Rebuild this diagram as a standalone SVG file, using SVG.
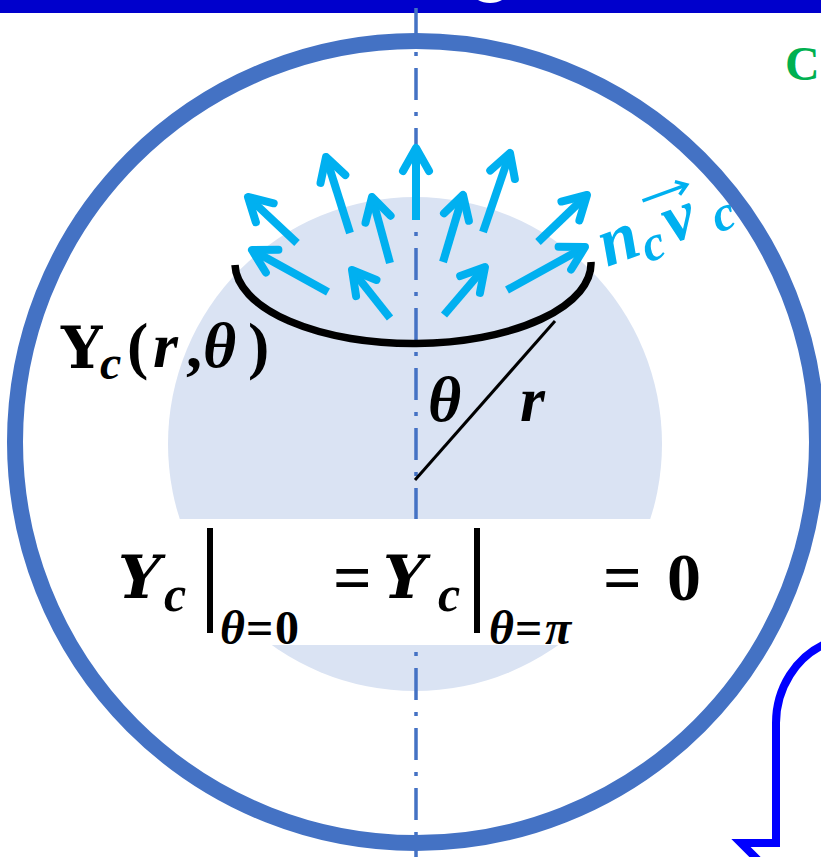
<svg xmlns="http://www.w3.org/2000/svg" width="821" height="857" viewBox="0 0 821 857">
<defs>
<style>
.m{font-family:"Liberation Serif","DejaVu Serif",serif;font-weight:bold;font-style:italic;fill:#000}
.u{font-style:normal}
.g{font-family:"DejaVu Serif",serif}
.cy{fill:#00B0F0}
.ar{stroke:#00B0F0;stroke-width:8;fill:none;stroke-linecap:butt}
</style>
<marker id="ah" markerUnits="userSpaceOnUse" viewBox="-30 -20 40 40" refX="0" refY="0" markerWidth="40" markerHeight="40" orient="auto">
<path d="M-23,-13 L0,0 L-23,13" fill="none" stroke="#00B0F0" stroke-width="8" stroke-linecap="round" stroke-linejoin="round"/>
</marker>
</defs>
<rect width="821" height="857" fill="#fff"/>
<rect x="0" y="0" width="821" height="13" fill="#0000CC"/>
<ellipse cx="490" cy="-7" rx="17" ry="10" fill="#fff"/>
<g id="disc"><circle cx="415" cy="444" r="247" fill="#DAE3F3"/></g>
<g id="axis"><line x1="416" y1="8" x2="416" y2="857" stroke="#4472C4" stroke-width="3.5" stroke-dasharray="32 12 4 12"/></g>
<g id="formula">
<rect x="110" y="519" width="605" height="126" fill="#fff"/>
<text class="m g" font-size="60" x="118" y="598">Υ</text>
<text class="m" font-size="50" x="164" y="611">c</text>
<line x1="210" y1="528" x2="210" y2="633" stroke="#000" stroke-width="6"/>
<text class="m" font-size="48" x="220" y="644">θ<tspan class="u" x="246">=</tspan><tspan class="u" x="275">0</tspan></text>
<text class="m u" font-size="68" x="333" y="600">=</text>
<text class="m g" font-size="60" x="383" y="598">Υ</text>
<text class="m" font-size="50" x="438" y="611">c</text>
<line x1="477" y1="528" x2="477" y2="633" stroke="#000" stroke-width="6"/>
<text class="m" font-size="48" x="489" y="644">θ<tspan class="u" x="515">=</tspan><tspan x="545">π</tspan></text>
<text class="m u" font-size="68" x="603" y="600">=<tspan x="667">0</tspan></text>
</g>
<g id="surface">
<path d="M235,265 A178,80 0 0 0 591,262" fill="none" stroke="#000" stroke-width="7.5"/>
<line x1="415" y1="480" x2="555" y2="321" stroke="#000" stroke-width="3"/>
<text class="m" font-size="64" x="428" y="421">θ</text>
<text class="m" font-size="64" x="520" y="421">r</text>
</g>
<g id="label-upsilon">
<text class="m" font-size="64" x="61" y="368"><tspan class="u g" font-size="58">Υ</tspan><tspan font-size="48" x="100" y="379">c</tspan><tspan x="127" y="367" class="u">(</tspan><tspan x="153">r</tspan><tspan x="186" class="u">,</tspan><tspan x="203">θ</tspan><tspan x="248" class="u">)</tspan></text>
</g>
<g id="connectors" class="ar" marker-end="url(#ah)">
<line x1="297" y1="243" x2="248" y2="197"/>
<line x1="350" y1="233" x2="326" y2="157"/>
<line x1="416" y1="220" x2="416" y2="148"/>
<line x1="483" y1="232" x2="510" y2="153"/>
<line x1="538" y1="242" x2="587" y2="195"/>
<line x1="328" y1="292" x2="252" y2="250"/>
<line x1="390" y1="263" x2="372" y2="197"/>
<line x1="390" y1="318" x2="352" y2="270"/>
<line x1="443" y1="262" x2="463" y2="195"/>
<line x1="444" y1="315" x2="485" y2="267"/>
<line x1="507" y1="290" x2="585" y2="247"/>
</g>
<g id="flux-label" transform="translate(607,267) rotate(-20)">
<text class="m cy" font-size="70" x="0" y="0">n<tspan font-size="50" x="40" y="10">c</tspan><tspan x="68" y="0">v</tspan><tspan font-size="50" x="116" y="6">c</tspan></text>
<line x1="56" y1="-50" x2="102" y2="-50" stroke="#00B0F0" stroke-width="3.5"/>
<path d="M93,-57 L103,-50 L93,-43" fill="none" stroke="#00B0F0" stroke-width="3.5"/>
</g>
<g id="boundary"><circle cx="416" cy="442" r="401" fill="none" stroke="#4472C4" stroke-width="16"/></g>
<g id="green-title"><text x="785" y="80" font-family="Liberation Serif,serif" font-weight="bold" font-size="48" fill="#00B050">C</text></g>
<g id="blue-arrow"><path d="M830,642 C795,655 776,690 776,723 L776,843 L741,843 L768,870" fill="none" stroke="#0000FF" stroke-width="8" stroke-linejoin="miter"/></g>
</svg>
